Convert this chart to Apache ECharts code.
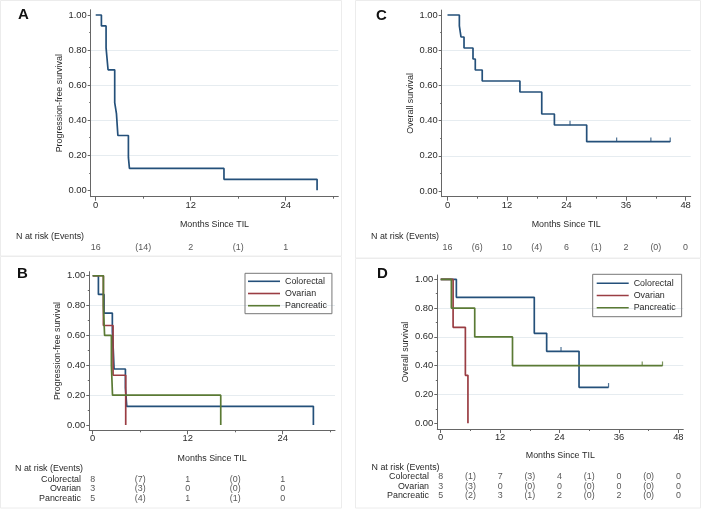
<!DOCTYPE html>
<html><head><meta charset="utf-8">
<script src="https://cdn.jsdelivr.net/npm/echarts@6/dist/echarts.min.js"></script>
<style>html,body{margin:0;padding:0;background:#fff}#c{width:701px;height:513px}</style>
</head><body><div id="c"></div><script>
// ---------- DATA ----------
// Panel A: overall PFS (Kaplan-Meier steps)
const pfsTime = [0, 0.72, 1.31, 1.56, 2.40, 2.62, 2.80, 4.13, 4.26, 16.2, 27.96];
const pfsSurv = [1, 0.9375, 0.8125, 0.6875, 0.5, 0.4375, 0.3125, 0.1875, 0.125, 0.0625, 0];
// Panel C: overall OS
const osTime = [0, 2.39, 2.72, 3.33, 5.14, 5.6, 7.0, 14.6, 19.0, 21.55, 28.06, 44.9];
const osSurv = [1, 0.9375, 0.875, 0.8125, 0.75, 0.6875, 0.625, 0.5625, 0.4375, 0.375, 0.28, 0.28];
const osCensorTime = [24.7, 34.1, 41.0, 44.9];
const osCensorSurv = [0.375, 0.28, 0.28, 0.28];
// Panel B: PFS by tumour type
const crcPfsTime = [0, 0.72, 1.43, 2.48, 2.6, 2.7, 4.13, 4.3, 27.87];
const crcPfsSurv = [1, 0.875, 0.75, 0.625, 0.5, 0.375, 0.25, 0.125, 0];
const ovPfsTime = [0, 1.35, 2.57, 4.17];
const ovPfsSurv = [1, 0.6667, 0.3333, 0];
const panPfsTime = [0, 1.35, 1.5, 2.36, 2.5, 16.17];
const panPfsSurv = [1, 0.8, 0.6, 0.4, 0.2, 0];
// Panel D: OS by tumour type
const crcOsTime = [0, 3.16, 18.9, 21.4, 27.94, 33.9];
const crcOsSurv = [1, 0.875, 0.625, 0.5, 0.25, 0.25];
const crcOsCensorTime = [24.3, 33.9];
const crcOsCensorSurv = [0.5, 0.25];
const ovOsTime = [0, 2.5, 4.98, 5.5];
const ovOsSurv = [1, 0.6667, 0.3333, 0];
const panOsTime = [0, 2.15, 6.87, 14.5, 44.8];
const panOsSurv = [1, 0.8, 0.6, 0.4, 0.4];
const panOsCensorTime = [40.7, 44.8];
const panOsCensorSurv = [0.4, 0.4];
// Tick labels
const yTicks = [0, 0.2, 0.4, 0.6, 0.8, 1.0];
const yMinorTicks = [0.1, 0.3, 0.5, 0.7, 0.9];
const xTicksPfs = [0, 12, 24];
const xMinorPfs = [6, 18, 30];
const xTicksOs = [0, 12, 24, 36, 48];
const xMinorOs = [6, 18, 30, 42];
// Risk tables (at-risk at 0,12,24..., events in between)
const groups = ['Colorectal', 'Ovarian', 'Pancreatic'];
const riskAllPfsN = [16, 2, 1];       const riskAllPfsE = [14, 1];
const riskAllOsN = [16, 10, 6, 2, 0]; const riskAllOsE = [6, 4, 1, 0];
const riskPfsN = [[8, 1, 1], [3, 0, 0], [5, 1, 0]];
const riskPfsE = [[7, 0], [3, 0], [4, 1]];
const riskOsN = [[8, 7, 4, 0, 0], [3, 0, 0, 0, 0], [5, 3, 2, 2, 0]];
const riskOsE = [[1, 3, 1, 0], [3, 0, 0, 0], [2, 1, 0, 0]];
// ---------- STYLE ----------
const FONT = '"Liberation Sans", Arial, sans-serif';
const TXT = '#2a2a2a';
const AX = '#666';
const GRIDC = '#e6ecf0';
const COL = {crc: '#24507a', ov: '#9a3d43', pan: '#5a7a34'};
const FS = 8.9;
const TFS = 9.4;
const LW = 1.7;

const layout = {
  A: {left: 90.7, top: 9.74, width: 247.6, height: 186.96, xmin: -0.632, xmax: 30.64, ymin: -0.0365, ymax: 1.03, xGap: 23, yGap: 25,
      risk: {top: 242.7, height: 10}},
  C: {left: 441.7, top: 10.07, width: 249, height: 186.63, xmin: -1.17, xmax: 49.03, ymin: -0.0324, ymax: 1.028, xGap: 23, yGap: 23,
      risk: {top: 242.7, height: 10}},
  B: {left: 89.3, top: 271.7, width: 245.7, height: 158.6, xmin: -0.43, xmax: 30.6, ymin: -0.0355, ymax: 1.027, xGap: 23.5, yGap: 27,
      risk: {top: 474.45, height: 29.1}},
  D: {left: 437.3, top: 275, width: 246, height: 154, xmin: -0.69, xmax: 49.0, ymin: -0.0396, ymax: 1.03, xGap: 22, yGap: 27,
      risk: {top: 471.95, height: 28.5}}
};

const grids = [], xAxes = [], yAxes = [], series = [];
const txtStyle = {fontFamily: FONT, fontSize: FS, color: TXT};

function addPanel(key, yName, xMajor, xMinor) {
  const L = layout[key];
  const gi = grids.length;
  grids.push({left: L.left, top: L.top, width: L.width, height: L.height, containLabel: false});
  const xi = xAxes.length, yi = yAxes.length;
  xAxes.push({gridIndex: gi, type: 'value', min: L.xmin, max: L.xmax, position: 'bottom',
    axisLine: {show: true, onZero: false, lineStyle: {color: AX, width: 1}},
    axisTick: {show: true, customValues: xMajor, length: 4, lineStyle: {color: AX}},
    axisLabel: {show: true, customValues: xMajor, margin: 4, fontFamily: FONT, fontSize: TFS, color: TXT, formatter: v => String(v)},
    splitLine: {show: false},
    name: 'Months Since TIL', nameLocation: 'middle', nameGap: L.xGap, nameTextStyle: txtStyle});
  xAxes.push({gridIndex: gi, type: 'value', min: L.xmin, max: L.xmax, position: 'bottom',
    axisLine: {show: false, onZero: false}, axisTick: {show: true, customValues: xMinor, length: 2, lineStyle: {color: AX}},
    axisLabel: {show: false}, splitLine: {show: false}});
  yAxes.push({gridIndex: gi, type: 'value', min: L.ymin, max: L.ymax, position: 'left', splitNumber: 5,
    axisLine: {show: true, onZero: false, lineStyle: {color: AX, width: 1}},
    axisTick: {show: true, customValues: yTicks, length: 3, lineStyle: {color: AX}},
    axisLabel: {show: true, customValues: yTicks, margin: 4, fontFamily: FONT, fontSize: TFS, color: TXT, formatter: v => v.toFixed(2)},
    splitLine: {show: true, showMinLine: false, showMaxLine: false, lineStyle: {color: GRIDC, width: 1}},
    name: yName, nameLocation: 'middle', nameGap: L.yGap, nameTextStyle: txtStyle});
  yAxes.push({gridIndex: gi, type: 'value', min: L.ymin, max: L.ymax, position: 'left',
    axisLine: {show: false, onZero: false}, axisTick: {show: true, customValues: yMinorTicks, length: 1.5, lineStyle: {color: AX}},
    axisLabel: {show: false}, splitLine: {show: false}});
  return {xi, yi};
}

function km(ax, name, t, s, color) {
  series.push({type: 'line', name, xAxisIndex: ax.xi, yAxisIndex: ax.yi, step: 'end', symbol: 'none',
    data: t.map((v, i) => [v, s[i]]), lineStyle: {color, width: LW}, itemStyle: {color}, silent: true});
}
function censor(ax, t, s, color) {
  series.push({type: 'scatter', name: 'censor', xAxisIndex: ax.xi, yAxisIndex: ax.yi, symbol: 'rect',
    symbolSize: [1.2, 4.5], symbolOffset: [0, -2], data: t.map((v, i) => [v, s[i]]), itemStyle: {color}, silent: true});
}
function riskTable(key, rows, Ns, Es) {
  const L = layout[key];
  const gi = grids.length;
  grids.push({left: L.left, top: L.risk.top, width: L.width, height: L.risk.height});
  const xi = xAxes.length, yi = yAxes.length;
  xAxes.push({gridIndex: gi, type: 'value', min: L.xmin, max: L.xmax, show: false});
  yAxes.push({gridIndex: gi, type: 'category', data: rows, inverse: true,
    axisLine: {show: false}, axisTick: {show: false}, splitLine: {show: false},
    axisLabel: {show: rows.length > 1, interval: 0, margin: 8.3, fontFamily: FONT, fontSize: FS, color: TXT}});
  const data = [];
  rows.forEach((r, ri) => {
    Ns[ri].forEach((n, k) => data.push({value: [k * 12, r], txt: String(n)}));
    Es[ri].forEach((e, k) => data.push({value: [k * 12 + 6, r], txt: '(' + e + ')'}));
  });
  series.push({type: 'scatter', name: 'risk', xAxisIndex: xi, yAxisIndex: yi, symbolSize: 1,
    itemStyle: {color: 'rgba(0,0,0,0)'}, silent: true, data,
    label: {show: true, position: 'inside', formatter: p => p.data.txt, fontFamily: FONT, fontSize: FS, color: TXT}});
}

// Panel A
const aA = addPanel('A', 'Progression-free survival', xTicksPfs, xMinorPfs);
km(aA, 'All PFS', pfsTime, pfsSurv, COL.crc);
riskTable('A', [''], [riskAllPfsN], [riskAllPfsE]);
// Panel C
const aC = addPanel('C', 'Overall survival', xTicksOs, xMinorOs);
km(aC, 'All OS', osTime, osSurv, COL.crc);
censor(aC, osCensorTime, osCensorSurv, COL.crc);
riskTable('C', [''], [riskAllOsN], [riskAllOsE]);
// Panel B
const aB = addPanel('B', 'Progression-free survival', xTicksPfs, xMinorPfs);
km(aB, 'Colorectal', crcPfsTime, crcPfsSurv, COL.crc);
km(aB, 'Ovarian', ovPfsTime, ovPfsSurv, COL.ov);
km(aB, 'Pancreatic', panPfsTime, panPfsSurv, COL.pan);
riskTable('B', groups, riskPfsN, riskPfsE);
// Panel D
const aD = addPanel('D', 'Overall survival', xTicksOs, xMinorOs);
km(aD, 'Colorectal', crcOsTime, crcOsSurv, COL.crc);
km(aD, 'Ovarian', ovOsTime, ovOsSurv, COL.ov);
km(aD, 'Pancreatic', panOsTime, panOsSurv, COL.pan);
censor(aD, crcOsCensorTime, crcOsCensorSurv, COL.crc);
censor(aD, panOsCensorTime, panOsCensorSurv, COL.pan);
riskTable('D', groups, riskOsN, riskOsE);

const legendBase = {orient: 'vertical', data: groups, icon: 'rect', itemWidth: 32, itemHeight: 1.6, itemGap: 2.2,
  itemTextGap: 6, borderColor: '#777', borderWidth: 1, borderRadius: 0, selectedMode: false,
  textStyle: {fontFamily: FONT, fontSize: FS, color: TXT, lineHeight: 10}};

const letter = (txt, x, y) => ({type: 'text', left: x, top: y,
  style: {text: txt, font: 'bold 15px "Liberation Sans", Arial, sans-serif', fill: '#111'}});
const header = (x, y) => ({type: 'text', left: x, top: y,
  style: {text: 'N at risk (Events)', font: FS + 'px "Liberation Sans", Arial, sans-serif', fill: TXT}});
const frame = (x, y, w, h) => ({type: 'rect', shape: {x, y, width: w, height: h}, z: -1,
  style: {fill: 'none', stroke: '#ececec', lineWidth: 1}});

const option = {
  animation: false,
  backgroundColor: '#fff',
  grid: grids, xAxis: xAxes, yAxis: yAxes, series,
  legend: [
    Object.assign({}, legendBase, {left: 245, top: 273.3, padding: [3, 5, 3, 3]}),
    Object.assign({}, legendBase, {left: 592.7, top: 274.3, padding: [4, 6, 4, 4]})
  ],
  graphic: [
    frame(0.5, 0.5, 341, 255.5), frame(0.5, 256.5, 341, 251.5),
    frame(355.5, 0.5, 345, 257.5), frame(355.5, 258.5, 345, 249.5),
    letter('A', 18, 7), letter('C', 376, 8), letter('B', 17, 266), letter('D', 377, 266),
    header(16, 232), header(371, 232), header(15, 464.5), header(371.5, 463)
  ]
};
const chart = echarts.init(document.getElementById('c'), null, {renderer: 'canvas'});
chart.setOption(option);
</script></body></html>
